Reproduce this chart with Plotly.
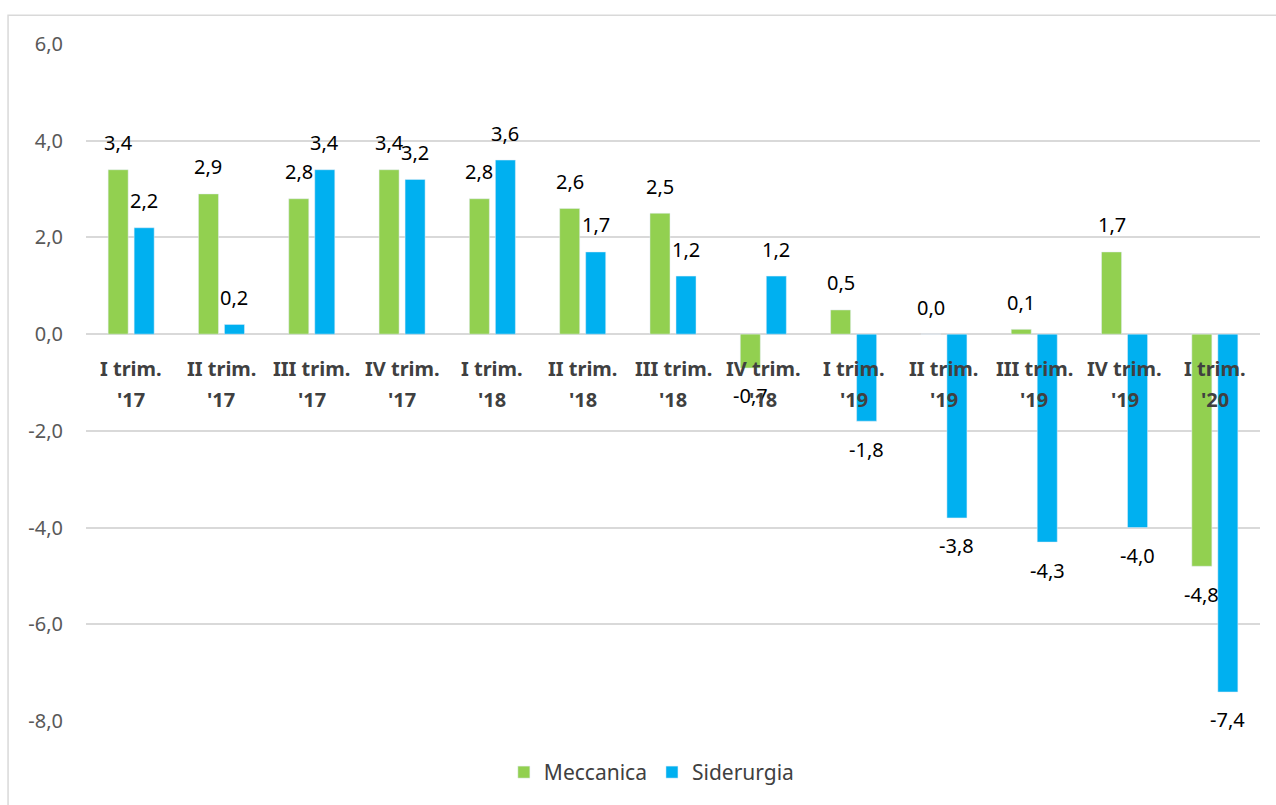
import plotly.graph_objects as go

cat_line1 = ["I trim.", "II trim.", "III trim.", "IV trim.", "I trim.", "II trim.", "III trim.",
             "IV trim.", "I trim.", "II trim.", "III trim.", "IV trim.", "I trim."]
cat_line2 = ["'17", "'17", "'17", "'17", "'18", "'18", "'18", "'18", "'19", "'19", "'19", "'19", "'20"]
categories = [f"{a} {b}" for a, b in zip(cat_line1, cat_line2)]

meccanica = [3.4, 2.9, 2.8, 3.4, 2.8, 2.6, 2.5, -0.7, 0.5, 0.0, 0.1, 1.7, -4.8]
siderurgia = [2.2, 0.2, 3.4, 3.2, 3.6, 1.7, 1.2, 1.2, -1.8, -3.8, -4.3, -4.0, -7.4]

y_ticks = [-8, -6, -4, -2, 0, 2, 4, 6]

GREEN = "#92d050"
BLUE = "#00b0f0"
FONT = "Noto Sans"


def fmt(v):
    return f"{v:.1f}".replace(".", ",")


fig = go.Figure()
fig.add_trace(go.Bar(name="Meccanica", x=categories, y=meccanica, marker_color=GREEN))
fig.add_trace(go.Bar(name="Siderurgia", x=categories, y=siderurgia, marker_color=BLUE))

annotations = []
for series, shift in ((meccanica, -13), (siderurgia, 13)):
    for c, v in zip(categories, series):
        annotations.append(dict(
            x=c, y=v, xref="x", yref="y", text=fmt(v), showarrow=False,
            xshift=shift, yshift=27 if v >= 0 else -28, yanchor="middle",
            font=dict(family=FONT, size=20, color="#000000")))

for c, a, b in zip(categories, cat_line1, cat_line2):
    annotations.append(dict(x=c, y=0, xref="x", yref="y", text=f"<b>{a}</b>", showarrow=False,
                            yanchor="middle", yshift=-34,
                            font=dict(family=FONT, size=20, color="#404040")))
    annotations.append(dict(x=c, y=0, xref="x", yref="y", text=f"<b>{b}</b>", showarrow=False,
                            yanchor="middle", yshift=-65,
                            font=dict(family=FONT, size=20, color="#404040")))

fig.update_layout(
    width=1276, height=805,
    margin=dict(l=86, r=16, t=44, b=81),
    paper_bgcolor="white", plot_bgcolor="white",
    barmode="group", bargap=0.424, bargroupgap=0.23,
    font=dict(family=FONT, size=20, color="#595959"),
    showlegend=True,
    legend=dict(orientation="h", x=0.482, xanchor="center", y=-0.076, yanchor="middle",
                font=dict(family=FONT, size=21, color="#404040"), itemwidth=30,
                traceorder="normal"),
    annotations=annotations,
    shapes=[dict(type="rect", xref="paper", yref="paper", x0=-0.0664, x1=1.05,
                 y0=-0.3, y1=1.0426, line=dict(color="#d9d9d9", width=1.5),
                 fillcolor="rgba(0,0,0,0)", layer="below")],
)
fig.update_xaxes(showticklabels=False, showgrid=False, zeroline=False, showline=False)
fig.update_yaxes(range=[-8, 6], tickmode="array", tickvals=y_ticks,
                 ticktext=[fmt(t) for t in y_ticks], showgrid=True,
                 gridcolor="#d9d9d9", gridwidth=2, zeroline=True, zerolinecolor="#d9d9d9",
                 zerolinewidth=2, showline=False, ticklabelstandoff=22,
                 tickfont=dict(family=FONT, size=20, color="#595959"))

fig.write_html("out.html")
